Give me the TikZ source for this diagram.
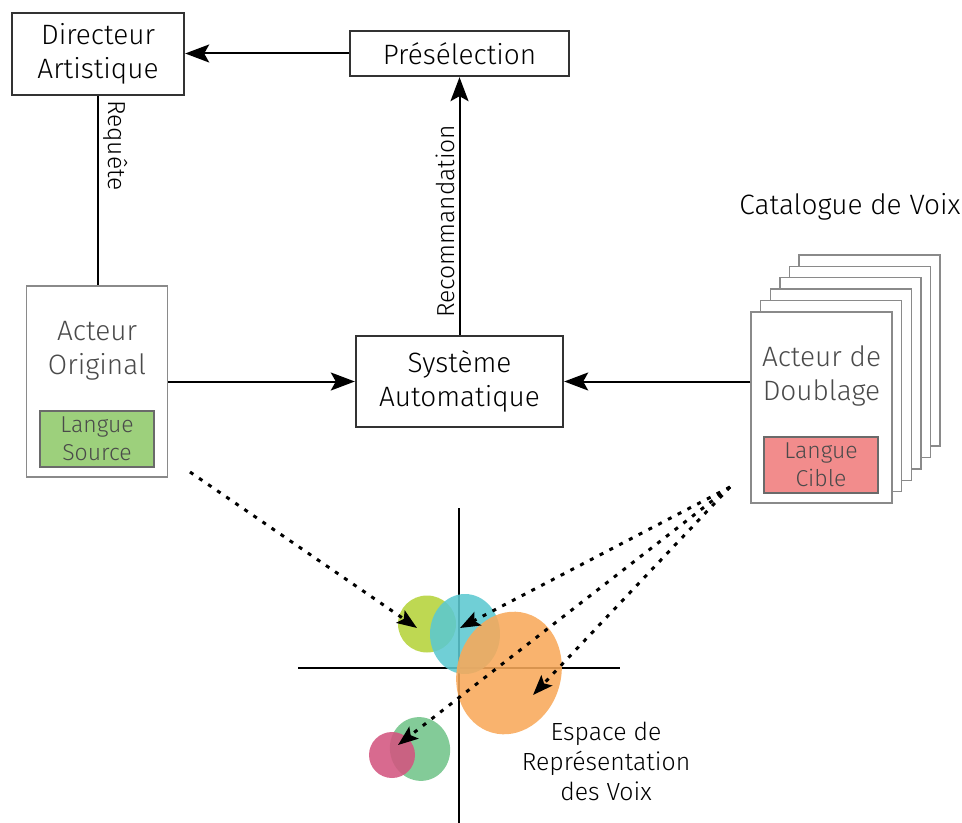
\documentclass[tikz,border=0pt]{standalone}
\usepackage{fontspec}
\setmainfont{Fira Sans Light}
\usetikzlibrary{arrows.meta}

\definecolor{boxline}{HTML}{333333}
\definecolor{cardline}{HTML}{8A8A8A}
\definecolor{cardtext}{HTML}{4A4A4A}
\definecolor{langline}{HTML}{6A6A6A}
\definecolor{srcfill}{HTML}{9DD07C}
\definecolor{cibfill}{HTML}{F28C8C}
\definecolor{ygreen}{HTML}{B5D33A}
\definecolor{teal}{HTML}{5CC8D0}
\definecolor{peach}{HTML}{F8A95A}
\definecolor{mint}{HTML}{72C48A}
\definecolor{berry}{HTML}{D3557F}

\newcommand{\cardw}{141}
\newcommand{\cardh}{191}

\tikzset{
  mainbox/.style={draw=boxline, line width=1.2pt, align=center,
    font=\fontsize{14}{17}\selectfont},
  card/.style={draw=cardline, line width=0.7pt, fill=white,
    minimum width=\cardw*0.5pt, minimum height=\cardh*0.5pt},
  cardlabel/.style={text=cardtext, align=center, font=\fontsize{14}{17}\selectfont},
  langbox/.style={draw=langline, line width=0.7pt, text=cardtext, align=center,
    minimum width=57pt, minimum height=28pt, inner sep=0pt,
    font=\fontsize{11.5}{14}\selectfont},
  arr/.style={line width=1pt, -{Stealth[length=12pt, width=9pt, inset=2.5pt]}},
  dotarr/.style={line width=1.5pt, dash pattern=on 2pt off 3.5pt,
    -{Stealth[length=10pt, width=7.5pt, inset=2pt]}},
  axis/.style={line width=0.6pt},
  rotlabel/.style={font=\fontsize{12.3}{14}\selectfont, inner sep=2pt}
}

\begin{document}
\begin{tikzpicture}[x=0.5pt, y=-0.5pt]
  \useasboundingbox (0,0) rectangle (962,823);

  % top row
  \node[mainbox, minimum width=86pt, minimum height=41pt] (dir) at (98,54)
    {Directeur\\Artistique};
  \node[mainbox, minimum width=109.5pt, minimum height=22.5pt] (presel) at (459.5,53.5)
    {Présélection};
  \node[mainbox, minimum width=103.5pt, minimum height=45.5pt] (sys) at (459.5,381.5)
    {Système\\Automatique};

  % original actor
  \node[card] (orig) at (97,381.5) {};
  \node[cardlabel] (origtxt) at (97,351) {Acteur\\Original};
  \node[langbox, fill=srcfill] (src) at (97,439) {Langue\\Source};

  % catalogue of dubbing actors
  \node[font=\fontsize{14}{17}\selectfont] (cat) at (850,207) {Catalogue de Voix};
  \foreach \i in {5,4,...,1}
    \node[card] at (821.5+9.6*\i,407.5-11.4*\i) {};
  \node[card] (dub) at (821.5,407.5) {};
  \node[cardlabel] (dubtxt) at (821.5,376) {Acteur de\\Doublage};
  \node[langbox, fill=cibfill] (cib) at (821,465) {Langue\\Cible};

  % connectors
  \draw[arr] (presel.west) -- (dir.east |- presel.west);
  \draw[line width=1pt] (dir.south) -- (dir.south |- orig.north)
    node[rotlabel, pos=0.26, rotate=-90, anchor=south] {Requête};
  \draw[arr] (sys.north) -- (presel.south)
    node[rotlabel, pos=0.44, rotate=90, anchor=south] {Recommandation};
  \draw[arr] (orig.east |- sys.west) -- (sys.west);
  \draw[arr] (dub.west |- sys.east) -- (sys.east);

  % representation space
  \draw[axis] (459,508) -- (459,823);
  \draw[axis] (298,668) -- (620,668);

  \foreach \cx/\cy/\rx/\ry/\ang/\colour in
      {427/624/29/28.5/0/ygreen, 465/634/35/40/0/teal,
       509/673/52/62/-16/peach, 420/749/30/32/15/mint,
       392/755/23/23/0/berry}
    \fill[\colour, fill opacity=0.88, shift={(\cx,\cy)}, rotate=\ang]
      (0,0) ellipse [x radius=\rx, y radius=\ry];

  \node[align=center, font=\fontsize{12.4}{15}\selectfont] (espace) at (606,761)
    {Espace de\\Représentation\\des Voix};

  % projections
  \coordinate (osrc) at (190,472);
  \coordinate (odub) at (730,487);
  \coordinate (tyg) at (417,628);
  \coordinate (tteal) at (460,628);
  \coordinate (tpeach) at (533,695);
  \coordinate (tberry) at (398,745);
  \draw[dotarr] (osrc) -- (tyg);
  \foreach \t in {tteal,tpeach,tberry}
    \draw[dotarr] (odub) -- (\t);
\end{tikzpicture}
\end{document}
